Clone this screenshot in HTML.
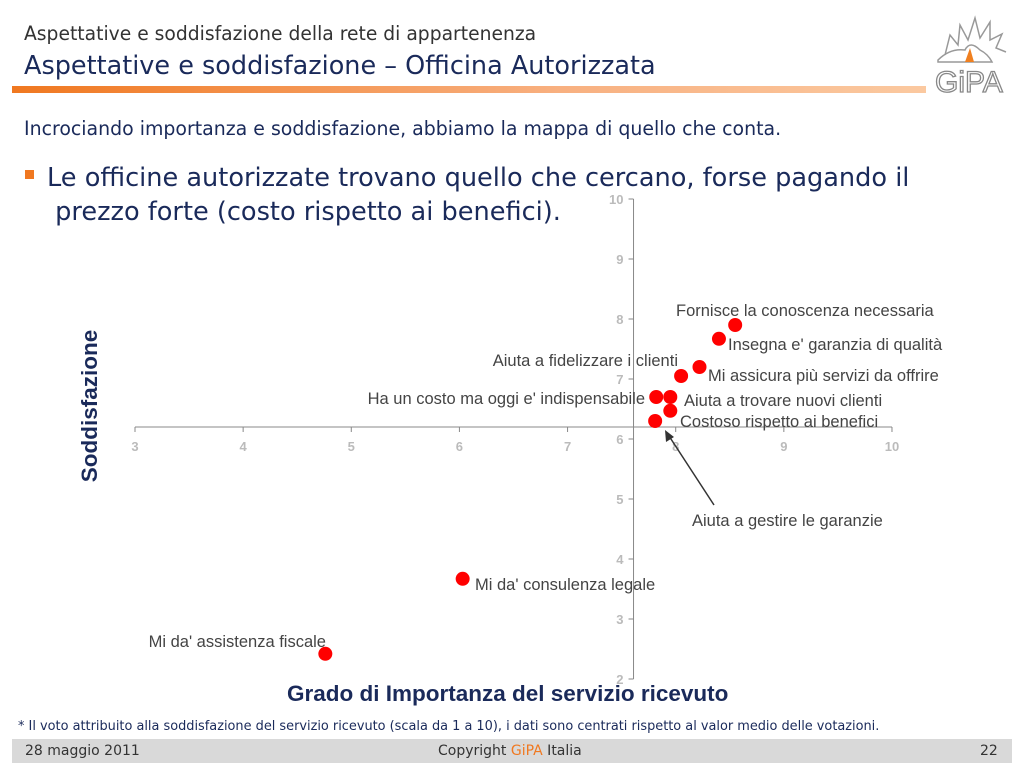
<!DOCTYPE html>
<html><head><meta charset="utf-8"><style>
body{margin:0;width:1024px;height:768px;overflow:hidden;background:#fff;font-family:"Liberation Sans",sans-serif;position:relative}
.t{position:absolute;white-space:nowrap}
</style></head><body>
<div class="t" style="left:24px;top:22px;color:#333;font-family:'DejaVu Sans',sans-serif;font-size:19.5px;transform:scaleX(0.96);transform-origin:left">Aspettative e soddisfazione della rete di appartenenza</div>
<div class="t" style="left:24px;top:51px;font-family:'DejaVu Sans',sans-serif;font-size:25.5px;color:#1a2a5a">Aspettative e soddisfazione – Officina Autorizzata</div>
<div style="position:absolute;left:12px;top:86px;width:914px;height:7px;background:linear-gradient(90deg,#f07820,#f8b080 60%,#fbc9a0)"></div>
<svg style="position:absolute;left:930px;top:10px" width="80" height="86">
<path d="M15 45 L20 25 L28 35 L30 15 L38 30 L45 8 L50 28 L60 12 L60 30 L72 24 L66 38 L76 42" fill="none" stroke="#999" stroke-width="1.5"/>
<path d="M8 50 Q20 38 35 40 Q40 30 50 40 Q58 44 62 52 L8 52 Z" fill="none" stroke="#999" stroke-width="1.5"/>
<path d="M35 52 L40 38 L44 52 Z" fill="#f08020"/>
<text x="5" y="82" font-family="Liberation Sans" font-size="30" fill="none" stroke="#888" stroke-width="1.3">GiPA</text>
</svg>
<div class="t" style="left:24px;top:117px;font-family:'DejaVu Sans',sans-serif;font-size:19.5px;color:#1a2a5a;transform:scaleX(0.97);transform-origin:left">Incrociando importanza e soddisfazione, abbiamo la mappa di quello che conta.</div>
<div style="position:absolute;left:25px;top:170px;width:9px;height:9px;background:#f07820"></div>
<div class="t" style="left:47px;top:161px;font-family:'DejaVu Sans',sans-serif;font-size:25.6px;line-height:34px;color:#1a2a5a">Le officine autorizzate trovano quello che cercano, forse pagando il<br>&nbsp;prezzo forte (costo rispetto ai benefici).</div>
<svg id="chart" style="position:absolute;left:0;top:0" width="1024" height="768"></svg>
<div class="t" style="left:-10px;top:393px;transform:rotate(-90deg);transform-origin:center;width:200px;text-align:center;font-weight:bold;font-size:22.5px;color:#1a2a5a">Soddisfazione</div>
<div class="t" style="left:287px;top:681px;font-weight:bold;font-size:22.5px;color:#1a2a5a">Grado di Importanza del servizio ricevuto</div>
<div class="t" style="left:18px;top:719px;font-family:'DejaVu Sans',sans-serif;font-size:12.9px;color:#1a2a5a">* Il voto attribuito alla soddisfazione del servizio ricevuto (scala da 1 a 10), i dati sono centrati rispetto al valor medio delle votazioni.</div>
<div style="position:absolute;left:12px;top:739px;width:1000px;height:24px;background:#d9d9d9"></div>
<div class="t" style="left:25px;top:743px;font-family:'DejaVu Sans',sans-serif;font-size:14px;color:#333">28 maggio 2011</div>
<div class="t" style="left:438px;top:743px;font-family:'DejaVu Sans',sans-serif;font-size:14px;color:#333">Copyright <span style="color:#f07820">GiPA</span> Italia</div>
<div class="t" style="left:980px;top:743px;font-family:'DejaVu Sans',sans-serif;font-size:14px;color:#333">22</div>
<script>
const labels=["Fornisce la conoscenza necessaria","Insegna e' garanzia di qualità","Mi assicura più servizi da offrire","Aiuta a fidelizzare i clienti","Ha un costo ma oggi e' indispensabile","Aiuta a trovare nuovi clienti","Costoso rispetto ai benefici","Aiuta a gestire le garanzie","Mi da' consulenza legale","Mi da' assistenza fiscale"];
const importanza=[8.55,8.40,8.22,8.05,7.82,7.95,7.95,7.81,6.03,4.76];
const soddisfazione=[7.9,7.67,7.2,7.05,6.7,6.7,6.47,6.3,3.67,2.42];
const xTicks=[3,4,5,6,7,8,9,10];
const yTicks=[2,3,4,5,6,7,8,9,10];
const X=v=>135+(v-3)*108.14, Y=v=>199+(10-v)*60;
const ns="http://www.w3.org/2000/svg",svg=document.getElementById('chart');
function mk(t,a,txt){const e=document.createElementNS(ns,t);for(const k in a)e.setAttribute(k,a[k]);if(txt!=null)e.textContent=txt;svg.appendChild(e);return e;}
const cross=6.2, xAx=X(7.61);
let e=mk('line',{x1:X(3),x2:X(10),y1:Y(cross),y2:Y(cross),stroke:'#888'});

e=mk('line',{x1:xAx,x2:xAx,y1:Y(10),y2:Y(2),stroke:'#888'});

xTicks.forEach(v=>{mk('line',{x1:X(v),x2:X(v),y1:Y(cross),y2:Y(cross)+5,stroke:'#888'});
e=mk('text',{x:X(v),y:Y(cross)+24,'text-anchor':'middle','font-size':13,'font-weight':'bold',fill:'#bbb','font-family':'Liberation Sans'},v);
});
yTicks.forEach(v=>{mk('line',{x1:xAx-5,x2:xAx,y1:Y(v),y2:Y(v),stroke:'#888'});
e=mk('text',{x:xAx-10,y:Y(v)+5,'text-anchor':'end','font-size':13,'font-weight':'bold',fill:'#bbb','font-family':'Liberation Sans'},v);
});
mk('line',{x1:714,y1:505,x2:669,y2:436,stroke:'#333','stroke-width':1.5});
mk('path',{d:'M665 430 L666 442 L674 437 Z',fill:'#333'});
const lp=[[676,316,'start'],[728,350,'start'],[708,381,'start'],[678,366,'end'],[645,404,'end'],[684,406,'start'],[680,427,'start'],[692,526,'start'],[475,590,'start'],[326,647,'end']];
importanza.forEach((v,i)=>{
e=mk('circle',{cx:X(v),cy:Y(soddisfazione[i]),r:7,fill:'#f00'});

e=mk('text',{x:lp[i][0],y:lp[i][1],'text-anchor':lp[i][2],'font-size':16.5,fill:'#444','font-family':'Liberation Sans'},labels[i]);
});
</script>
</body></html>
